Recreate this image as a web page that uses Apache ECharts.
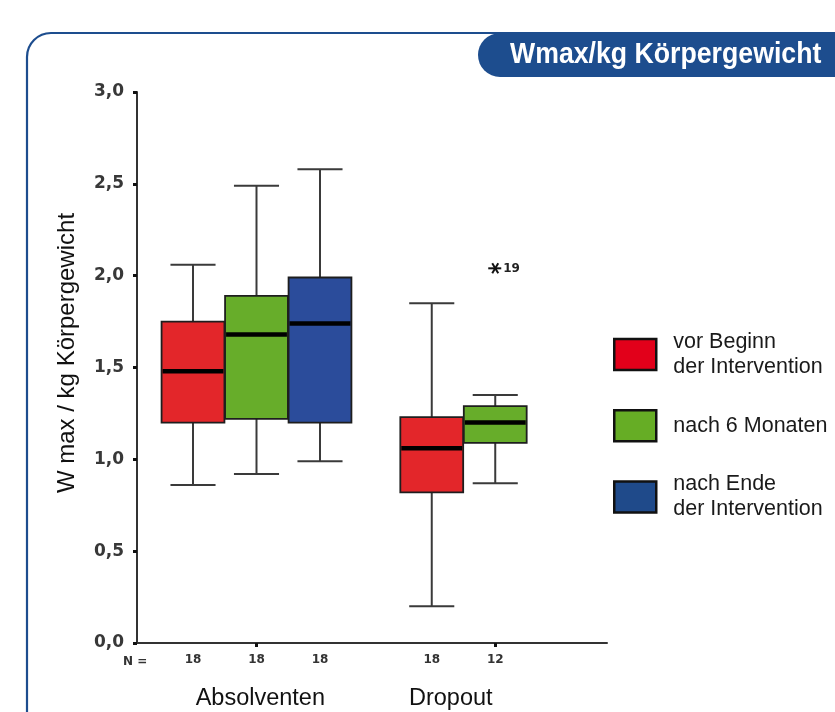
<!DOCTYPE html>
<html>
<head>
<meta charset="utf-8">
<script src="https://cdn.jsdelivr.net/npm/echarts@6/dist/echarts.min.js"></script>
<style>
  html, body { margin: 0; padding: 0; background: #ffffff; }
  #chart { width: 835px; height: 712px; }
</style>
</head>
<body>
<div id="chart"></div>
<script>
// ---------- data ----------
const groups = ['Absolventen', 'Dropout'];
const phases = ['vor Beginn\nder Intervention', 'nach 6 Monaten', 'nach Ende\nder Intervention'];
const yTicks = [0, 0.5, 1.0, 1.5, 2.0, 2.5, 3.0];

// one entry per box
const boxGroup    = [0, 0, 0, 1, 1];
const boxPhase    = [0, 1, 2, 0, 1];
const whiskerLow  = [0.86, 0.92, 0.99, 0.20, 0.87];
const quart1      = [1.20, 1.22, 1.20, 0.82, 1.09];
const median      = [1.48, 1.68, 1.74, 1.06, 1.20];
const quart3      = [1.75, 1.89, 1.99, 1.23, 1.29];
const whiskerHigh = [2.06, 2.49, 2.58, 1.85, 1.35];
const nCounts     = [18, 18, 18, 18, 12];

// outliers: [box index, value, case label]
const outliers = [[4, 2.04, '19']];

// ---------- layout / style ----------
const boxX = [1, 2, 3, 4.76, 5.76];          // horizontal slot of each box
const groupLabelX = [2.06, 5.06];
const groupTickX = [2, 5.76];
const phaseColors = ['#e3262a', '#67ad2a', '#2b4c9b'];
const legendColors = ['#e2001a', '#66ad25', '#1f4a8a'];
const BOX_W = 0.99, CAP_W = 0.71;
const FRAME_BLUE = '#1d4d8e';

function fmtComma(v) { return v.toFixed(1).replace('.', ','); }

const series = phases.map(function (ph, p) {
  const data = [];
  boxPhase.forEach(function (bp, i) {
    if (bp === p) data.push([boxX[i], whiskerLow[i], quart1[i], median[i], quart3[i], whiskerHigh[i]]);
  });
  return {
    type: 'custom',
    name: ph,
    itemStyle: { color: phaseColors[p] },
    encode: { x: 0, y: [1, 2, 3, 4, 5] },
    data: data,
    z: 3,
    renderItem: function (params, api) {
      const x = api.value(0);
      const pLow = api.coord([x, api.value(1)]);
      const pQ1 = api.coord([x, api.value(2)]);
      const pMed = api.coord([x, api.value(3)]);
      const pQ3 = api.coord([x, api.value(4)]);
      const pHigh = api.coord([x, api.value(5)]);
      const half = api.size([BOX_W, 0])[0] / 2;
      const capHalf = api.size([CAP_W, 0])[0] / 2;
      const cx = pLow[0];
      const wStyle = { stroke: '#3a3a3a', lineWidth: 2 };
      return {
        type: 'group',
        children: [
          { type: 'line', shape: { x1: cx, y1: pHigh[1], x2: cx, y2: pQ3[1] }, style: wStyle },
          { type: 'line', shape: { x1: cx, y1: pQ1[1], x2: cx, y2: pLow[1] }, style: wStyle },
          { type: 'line', shape: { x1: cx - capHalf, y1: pHigh[1], x2: cx + capHalf, y2: pHigh[1] }, style: wStyle },
          { type: 'line', shape: { x1: cx - capHalf, y1: pLow[1], x2: cx + capHalf, y2: pLow[1] }, style: wStyle },
          { type: 'rect', shape: { x: cx - half, y: pQ3[1], width: half * 2, height: pQ1[1] - pQ3[1] },
            style: { fill: phaseColors[p], stroke: '#1e1e1e', lineWidth: 1.8 } },
          { type: 'line', shape: { x1: cx - half + 1, y1: pMed[1], x2: cx + half - 1, y2: pMed[1] },
            style: { stroke: '#000', lineWidth: 4.5 } }
        ]
      };
    }
  };
});

series.push({
  type: 'custom',
  name: 'Ausreißer',
  encode: { x: 0, y: 1 },
  data: outliers.map(function (o) { return [boxX[o[0]], o[1], o[2]]; }),
  z: 4,
  renderItem: function (params, api) {
    const c = api.coord([api.value(0), api.value(1)]);
    const label = outliers[params.dataIndex][2];
    const s = { stroke: '#111', lineWidth: 2 };
    return {
      type: 'group',
      children: [
        { type: 'line', shape: { x1: c[0] - 7, y1: c[1], x2: c[0] + 6, y2: c[1] }, style: s },
        { type: 'line', shape: { x1: c[0] - 3, y1: c[1] - 5, x2: c[0] + 3, y2: c[1] + 5 }, style: s },
        { type: 'line', shape: { x1: c[0] - 3, y1: c[1] + 5, x2: c[0] + 3, y2: c[1] - 5 }, style: s },
        { type: 'text', x: c[0] + 8, y: c[1] + 1,
          style: { text: label, fill: '#222', font: 'bold 12px "DejaVu Sans"', align: 'left', verticalAlign: 'middle' } }
      ]
    };
  }
});

const chart = echarts.init(document.getElementById('chart'), null, { renderer: 'canvas' });
chart.setOption({
  animation: false,
  backgroundColor: '#ffffff',
  grid: { left: 137, top: 92, width: 470, height: 551 },
  xAxis: [{
    type: 'value',
    min: 0.118, max: 7.52,
    splitLine: { show: false },
    axisLine: { show: true, onZero: false, lineStyle: { color: '#333', width: 2 } },
    axisTick: { show: true, customValues: groupTickX, length: 4, lineStyle: { color: '#111', width: 3 } },
    axisLabel: {
      customValues: boxX,
      margin: 11,
      formatter: function (v) { const i = boxX.indexOf(v); return i >= 0 ? String(nCounts[i]) : ''; },
      color: '#333', fontFamily: 'DejaVu Sans', fontWeight: 'bold', fontSize: 12
    }
  }, {
    type: 'value',
    position: 'bottom',
    min: 0.118, max: 7.52,
    splitLine: { show: false },
    axisLine: { show: false },
    axisTick: { show: false },
    axisLabel: {
      customValues: groupLabelX,
      margin: 44,
      formatter: function (v) { const i = groupLabelX.indexOf(v); return i >= 0 ? groups[i] : ''; },
      color: '#111', fontFamily: 'Liberation Sans', fontSize: 23.5
    }
  }],
  yAxis: {
    type: 'value',
    min: yTicks[0], max: yTicks[yTicks.length - 1], interval: 0.5,
    splitLine: { show: false },
    axisLine: { show: true, lineStyle: { color: '#333', width: 2 } },
    axisTick: { show: true, length: 4, lineStyle: { color: '#111', width: 3 } },
    axisLabel: {
      margin: 13,
      formatter: fmtComma,
      color: '#383838', fontFamily: 'DejaVu Sans', fontWeight: 'bold', fontSize: 17
    },
    name: 'W max / kg Körpergewicht',
    nameLocation: 'middle',
    nameRotate: 90,
    nameGap: 58,
    nameTextStyle: { color: '#111', fontFamily: 'Liberation Sans', fontSize: 24, padding: [0, 0, 0, 29] }
  },
  legend: {
    orient: 'vertical',
    left: 613, top: 319,
    padding: 0,
    itemGap: 19,
    itemWidth: 42, itemHeight: 31,
    icon: 'rect',
    selectedMode: false,
    textStyle: { color: '#1a1a1a', fontFamily: 'Liberation Sans', fontSize: 21.5, lineHeight: 25 },
    data: phases.map(function (ph, p) {
      const twoLines = ph.indexOf('\n') >= 0;
      return {
        name: ph,
        itemStyle: { color: legendColors[p], borderColor: '#111', borderWidth: 2.5 },
        textStyle: { padding: twoLines ? [21, 0, 0, 12] : [0, 0, 0, 12] }
      };
    })
  },
  graphic: [
    { type: 'rect', z: 0, shape: { x: 27, y: 33, width: 900, height: 800, r: 24 },
      style: { fill: 'none', stroke: FRAME_BLUE, lineWidth: 2.2 } },
    { type: 'rect', z: 1, shape: { x: 478, y: 33, width: 420, height: 44, r: [22, 0, 0, 22] },
      style: { fill: FRAME_BLUE } },
    { type: 'text', z: 2, x: 510, y: 55, scaleX: 0.92,
      style: { text: 'Wmax/kg Körpergewicht', fill: '#ffffff', font: 'bold 29px "Liberation Sans"',
               align: 'left', verticalAlign: 'middle' } },
    { type: 'text', z: 2, x: 123, y: 662,
      style: { text: 'N =', fill: '#333', font: 'bold 12px "DejaVu Sans"', align: 'left', verticalAlign: 'middle' } }
  ],
  series: series
});
</script>
</body>
</html>
